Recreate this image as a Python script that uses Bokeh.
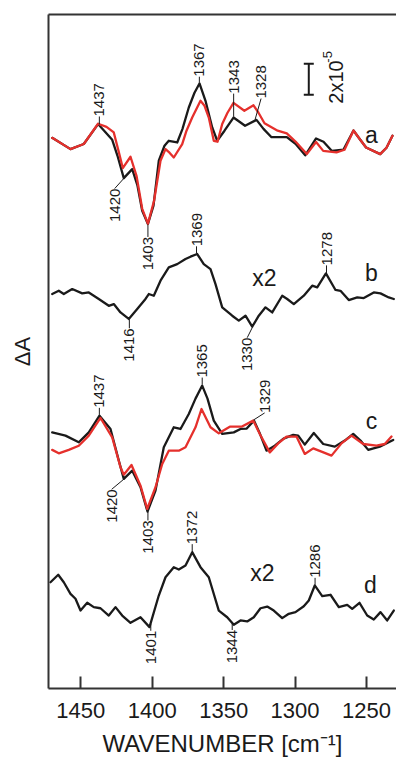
import numpy as np
from math import pi
from bokeh.plotting import figure
from bokeh.models import Range1d, LinearAxis, FixedTicker, Label
from bokeh.embed import file_html
from bokeh.resources import INLINE

# ---------------- data (wavenumber in cm-1, dA in units of 1e-5) ----------------
a_black_wn = [1470.0, 1457.2, 1447.9, 1437.9, 1428.0, 1424.3, 1419.9, 1414.0, 1410.3, 1407.0,
              1403.0, 1399.1, 1395.4, 1391.4, 1388.4, 1382.5, 1378.8, 1374.4, 1370.4, 1366.9,
              1362.7, 1358.0, 1354.5, 1349.4, 1343.1, 1335.0, 1327.0, 1322.1, 1316.5, 1305.8,
              1299.7, 1292.9, 1285.3, 1280.1, 1274.2, 1266.1, 1259.1, 1254.9, 1250.3, 1240.4,
              1236.0, 1231.8]
a_black_val = [0.19, -0.54, -0.21, 1.08, 0.06, -0.97, -2.41, -1.83, -2.90, -4.52,
               -5.37, -4.19, -1.29, -0.32, 0.0, -0.11, 0.77, 2.15, 3.10, 3.70,
               2.58, 0.86, 0.0, 0.65, 1.50, 0.97, 1.35, 0.77, 0.23, 0.24,
               -0.19, -0.94, 0.15, -0.06, -0.66, -0.57, 0.66, 0.13, -0.43, -0.86,
               -0.45, 0.32]

a_red_wn = [1470.0, 1457.2, 1447.9, 1437.9, 1432.0, 1426.9, 1423.6, 1420.6, 1415.2, 1411.0,
            1407.0, 1403.0, 1398.7, 1394.2, 1390.7, 1387.9, 1384.9, 1379.0, 1376.0, 1372.0,
            1366.2, 1363.4, 1360.4, 1356.9, 1354.3, 1351.0, 1347.3, 1343.1, 1335.5, 1329.1,
            1325.6, 1321.4, 1312.2, 1305.8, 1299.7, 1291.8, 1285.3, 1280.3, 1271.0, 1265.4,
            1259.1, 1254.9, 1250.3, 1240.4, 1236.0, 1231.8]
a_red_val = [0.19, -0.54, -0.21, 1.10, 0.90, 0.54, -0.65, -1.76, -1.03, -2.26,
             -4.39, -5.35, -3.87, -1.29, -0.54, -0.77, -1.08, -0.21, 0.65, 1.50,
             2.58, 2.26, 1.50, 0.0, -0.06, 1.08, 1.81, 2.45, 1.94, 2.29,
             1.81, 1.13, 0.65, 0.48, -0.05, -0.86, -0.08, -0.65, -0.75, -0.58,
             0.66, 0.13, -0.43, -0.86, -0.45, 0.32]

b_wn = [1470.0, 1465.4, 1461.9, 1456.0, 1449.0, 1444.4, 1437.4, 1430.4, 1426.9, 1422.2,
        1416.4, 1410.5, 1404.7, 1402.4, 1398.9, 1394.2, 1388.4, 1382.5, 1376.7, 1373.2,
        1368.5, 1363.9, 1359.2, 1355.7, 1351.0, 1344.0, 1339.4, 1334.7, 1330.0, 1325.4,
        1320.7, 1316.0, 1309.0, 1305.5, 1300.9, 1293.9, 1288.0, 1284.5, 1278.4, 1271.7,
        1268.2, 1262.4, 1256.5, 1251.9, 1244.9, 1240.2, 1234.4, 1230.9]
b_val = [0.11, 0.32, 0.11, 0.43, 0.15, 0.21, -0.21, -0.65, -0.54, -1.08,
         -1.50, -0.86, -0.21, 0.11, 0.0, 0.97, 1.83, 2.04, 2.37, 2.52,
         2.69, 2.04, 1.72, 0.75, -0.75, -1.29, -1.61, -1.29, -2.00, -1.29,
         -0.75, -1.08, 0.0, -0.21, -0.54, 0.0, 0.65, 0.54, 1.44, 0.37,
         0.32, -0.28, -0.11, -0.15, 0.21, 0.15, -0.11, -0.21]

c_black_wn = [1470.0, 1460.7, 1451.4, 1444.4, 1436.9, 1429.2, 1423.4, 1419.9, 1414.0, 1408.2,
              1403.3, 1397.7, 1391.9, 1384.9, 1380.2, 1374.4, 1369.7, 1365.0, 1361.3, 1356.9,
              1351.0, 1342.9, 1338.2, 1334.0, 1328.8, 1324.9, 1320.0, 1314.2, 1308.1, 1301.3,
              1297.8, 1293.2, 1286.9, 1280.3, 1272.2, 1265.2, 1259.3, 1254.2, 1248.8, 1240.7,
              1231.3]
c_black_val = [0.21, 0.0, -0.43, 0.21, 1.29, 0.43, -1.61, -2.79, -2.26, -3.33,
               -4.90, -3.55, -0.75, 0.54, 0.43, 1.40, 2.39, 3.23, 2.39, 0.97,
               0.11, 0.21, 0.43, 0.45, 0.97, 0.19, -0.97, -0.65, -0.19, 0.05,
               0.0, -0.58, 0.17, -0.54, -0.71, -0.32, 0.11, -0.32, -0.92, -0.71,
               -0.28]

c_red_wn = [1470.0, 1465.4, 1458.4, 1451.4, 1444.4, 1436.2, 1428.0, 1422.2, 1419.9, 1414.5,
            1408.2, 1403.5, 1397.7, 1393.0, 1388.4, 1381.4, 1376.7, 1369.7, 1365.5, 1359.2,
            1353.4, 1345.7, 1337.5, 1329.3, 1324.7, 1317.7, 1311.8, 1306.0, 1299.0, 1293.2,
            1287.3, 1281.5, 1274.5, 1267.5, 1260.5, 1252.3, 1243.0, 1237.2, 1232.5]
c_red_val = [-0.92, -1.14, -0.92, -0.65, 0.0, 1.14, -0.11, -2.04, -2.52, -1.89,
             -3.23, -4.73, -3.33, -1.83, -0.97, -0.97, -0.75, 0.54, 1.72, 0.54,
             0.15, 0.58, 0.58, 0.97, 0.11, -1.08, -0.50, -0.06, -0.06, -1.18,
             -0.82, -1.03, -1.29, -0.50, 0.0, -0.54, -0.65, -0.54, -0.06]

d_wn = [1471.2, 1465.8, 1461.9, 1457.2, 1453.7, 1450.2, 1445.5, 1440.9, 1436.2, 1430.4,
        1425.7, 1421.0, 1415.2, 1408.2, 1401.9, 1395.4, 1390.7, 1384.9, 1381.4, 1376.7,
        1372.0, 1366.2, 1360.4, 1353.4, 1347.5, 1342.9, 1338.2, 1333.5, 1328.9, 1324.2,
        1319.5, 1314.9, 1309.0, 1304.4, 1299.7, 1293.9, 1290.4, 1286.2, 1281.0, 1275.2,
        1269.4, 1263.5, 1260.0, 1254.9, 1249.5, 1244.9, 1240.2, 1235.5, 1230.9]
d_val = [1.18, 1.66, 1.18, 0.43, 0.11, -0.65, -0.15, -0.43, -0.50, -0.97,
         -0.43, -0.97, -1.44, -1.08, -1.72, 0.32, 1.50, 2.15, 2.00, 2.26,
         3.12, 2.15, 1.50, -0.65, -1.08, -1.57, -1.29, -1.35, -1.08, -0.50,
         -0.39, -0.65, -1.14, -0.86, -0.75, -0.37, 0.0, 0.97, 0.28, 0.37,
         -0.43, -0.28, -0.54, -0.15, -0.97, -1.23, -0.75, -1.29, -0.65]

# vertical offsets of the stacked traces (units of 1e-5)
offsets = {"a": 35.35, "b": 25.35, "c": 16.32, "d": 5.68}
trace_labels = ["a", "b", "c", "d"]
x_ticks = [1450, 1400, 1350, 1300, 1250]
scale_bar = 2.0  # 2x10^-5

# peak annotations: (trace, wavenumber, text, side, leader length px, leader dx px)
peak_labels = [
    ("a", 1437, "1437", "up", 8, 0), ("a", 1367, "1367", "up", 6, 0),
    ("a", 1343, "1343", "up", 23, 0), ("a", 1328, "1328", "up", 21, 6),
    ("a", 1420, "1420", "down", 10, -9), ("a", 1403, "1403", "down", 12, 0),
    ("b", 1369, "1369", "up", 7, 0), ("b", 1278, "1278", "up", 8, 0),
    ("b", 1416, "1416", "down", 9, 0), ("b", 1330, "1330", "down", 10, -5),
    ("c", 1437, "1437", "up", 7, 0), ("c", 1365, "1365", "up", 7, 0),
    ("c", 1329, "1329", "up", 7, 11), ("c", 1420, "1420", "down", 10, -12),
    ("c", 1403, "1403", "down", 9, 0),
    ("d", 1372, "1372", "up", 7, 0), ("d", 1401, "1401", "down", 7, 0),
    ("d", 1344, "1344", "down", 6, 0), ("d", 1286, "1286", "up", 7, 0),
]

# ---------------- figure ----------------
FONT = "Liberation Sans"
BLACK = "#1a1a1a"
RED = "#e5302c"
X0, X1 = 1472.6, 1229.0
Y0, Y1 = 0.0, 43.5
W, H = 396, 760
BL, BR, BT, BB = 48, 0, 14, 72

p = figure(width=W, height=H, x_range=Range1d(X0, X1), y_range=Range1d(Y0, Y1),
           output_backend="svg", toolbar_location=None,
           min_border_left=BL, min_border_right=BR, min_border_top=BT, min_border_bottom=BB)
p.outline_line_color = None
p.grid.visible = False

px_per_wn = (W - BL - BR) / (X0 - X1)
px_per_unit = (H - BT - BB) / (Y1 - Y0)

xa = p.xaxis[0]
xa.ticker = FixedTicker(ticks=x_ticks)
xa.major_label_overrides = {t: str(t) for t in x_ticks}
xa.major_tick_in = 12
xa.major_tick_out = 0
xa.minor_tick_line_color = None
xa.axis_line_width = 2
xa.axis_line_color = "#333333"
xa.major_tick_line_width = 2
xa.major_tick_line_color = "#333333"
xa.major_label_text_font = FONT
xa.major_label_text_font_size = "22px"
xa.major_label_text_color = BLACK
xa.major_label_standoff = 14
xa.axis_label = "WAVENUMBER [cm\u207b\u00b9]"
xa.axis_label_text_font = FONT
xa.axis_label_text_font_style = "normal"
xa.axis_label_text_font_size = "24px"
xa.axis_label_text_color = BLACK
xa.axis_label_standoff = 9

ya = p.yaxis[0]
ya.ticker = FixedTicker(ticks=[])
ya.major_tick_in = 0
ya.major_tick_out = 0
ya.minor_tick_line_color = None
ya.axis_line_width = 2
ya.axis_line_color = "#333333"
ya.axis_label = "\u0394A"
ya.axis_label_text_font = FONT
ya.axis_label_text_font_style = "normal"
ya.axis_label_text_font_size = "22px"
ya.axis_label_text_color = BLACK
ya.axis_label_standoff = 14

top = LinearAxis(ticker=FixedTicker(ticks=[]), major_tick_in=0, major_tick_out=0,
                 minor_tick_in=0, minor_tick_out=0, major_label_standoff=0,
                 axis_line_width=2, axis_line_color="#333333")
p.add_layout(top, "above")

series = {
    "a": [(a_black_wn, a_black_val, BLACK), (a_red_wn, a_red_val, RED)],
    "b": [(b_wn, b_val, BLACK)],
    "c": [(c_black_wn, c_black_val, BLACK), (c_red_wn, c_red_val, RED)],
    "d": [(d_wn, d_val, BLACK)],
}
for key, lst in series.items():
    for wn, val, col in lst:
        p.line(wn, np.array(val) + offsets[key], line_color=col, line_width=2.3,
               line_join="round", line_cap="round")

# peak annotations
sx0, sy0, sx1, sy1 = [], [], [], []
for key, wn, txt, side, lead, dx in peak_labels:
    bw, bv, _ = series[key][0]
    yv = float(np.interp(wn, bw[::-1], bv[::-1])) + offsets[key]
    sgn = 1 if side == "up" else -1
    ys = yv + sgn * 1.0 / px_per_unit
    ye = ys + sgn * lead / px_per_unit
    xe = wn - dx / px_per_wn
    sx0.append(wn); sy0.append(ys); sx1.append(xe); sy1.append(ye)
    p.add_layout(Label(x=xe, y=ye, text=txt, angle=pi / 2, angle_units="rad",
                       text_align="left" if side == "up" else "right",
                       text_baseline="middle", text_font=FONT,
                       text_font_size="15px", text_color=BLACK))
p.segment(sx0, sy0, sx1, sy1, line_color=BLACK, line_width=1)

# scale bar
sb_x, sb_y = 1290.4, 38.32
cap = 3.5
p.segment([sb_x, sb_x - cap, sb_x - cap], [sb_y, sb_y, sb_y + scale_bar],
          [sb_x, sb_x + cap, sb_x + cap], [sb_y + scale_bar, sb_y, sb_y + scale_bar],
          line_color=BLACK, line_width=2)
p.add_layout(Label(x=1271.7, y=37.74, text="2x10", angle=pi / 2, angle_units="rad",
                   text_align="left", text_baseline="middle", text_font=FONT,
                   text_font_size="20px", text_color=BLACK))
p.add_layout(Label(x=1277.3, y=40.39, text="-5", angle=pi / 2,
                   angle_units="rad", text_align="left", text_baseline="middle",
                   text_font=FONT, text_font_size="13px", text_color=BLACK))

# trace letters and multipliers
letter_pos = {"a": (1246.5, 35.74), "b": (1246.5, 26.84), "c": (1246.5, 17.29), "d": (1247.2, 6.65)}
for k in trace_labels:
    lx, ly = letter_pos[k]
    p.add_layout(Label(x=lx, y=ly, text=k, text_align="center", text_baseline="alphabetic",
                       text_font=FONT, text_font_size="23px", text_color=BLACK))
for lx, ly in [(1321.4, 26.52), (1322.8, 7.48)]:
    p.add_layout(Label(x=lx, y=ly, text="x2", text_align="center", text_baseline="alphabetic",
                       text_font=FONT, text_font_size="23px", text_color=BLACK))

open("out.html", "w").write(file_html(p, INLINE))
